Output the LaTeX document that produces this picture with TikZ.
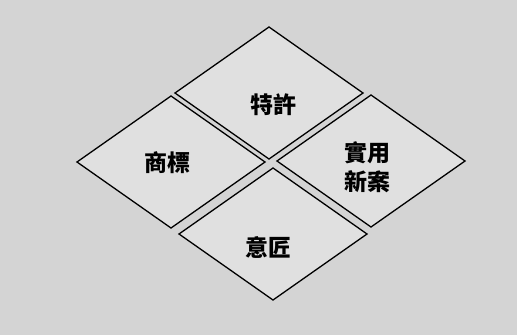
\documentclass[tikz,border=0pt]{standalone}
\usepackage{fontspec}
\newfontfamily\cjk{Noto Sans CJK TC}
\usetikzlibrary{shapes.geometric}

\begin{document}
\begin{tikzpicture}[x=1pt,y=-1pt]
   \tikzstyle{every node}=[inner sep=0pt, outer sep=0pt]
   \tikzstyle{field}=[draw, diamond, line width=1.3pt, fill=black!12, minimum width=188pt, minimum height=132pt]
   \tikzstyle{fieldtext}=[font=\cjk\bfseries\fontsize{23}{29}\selectfont, align=center]

\fill[black!17] (0,0) rectangle (517,335);
\useasboundingbox (0,0) rectangle (517,335);

% the four fields
\node[field] (patent) at (269,93) {};
\node[field] (trademark) at (171,162) {};
\node[field] (utility) at (371,161) {};
\node[field] (design) at (273,234) {};

\node[fieldtext] (patentname) at (273,105) {特許};
\node[fieldtext] (trademarkname) at (167,163) {商標};
\node[fieldtext] (utilityname) at (367,167) {實用\\新案};
\node[fieldtext] (designname) at (268,247) {意匠};

\end{tikzpicture}
\end{document}
